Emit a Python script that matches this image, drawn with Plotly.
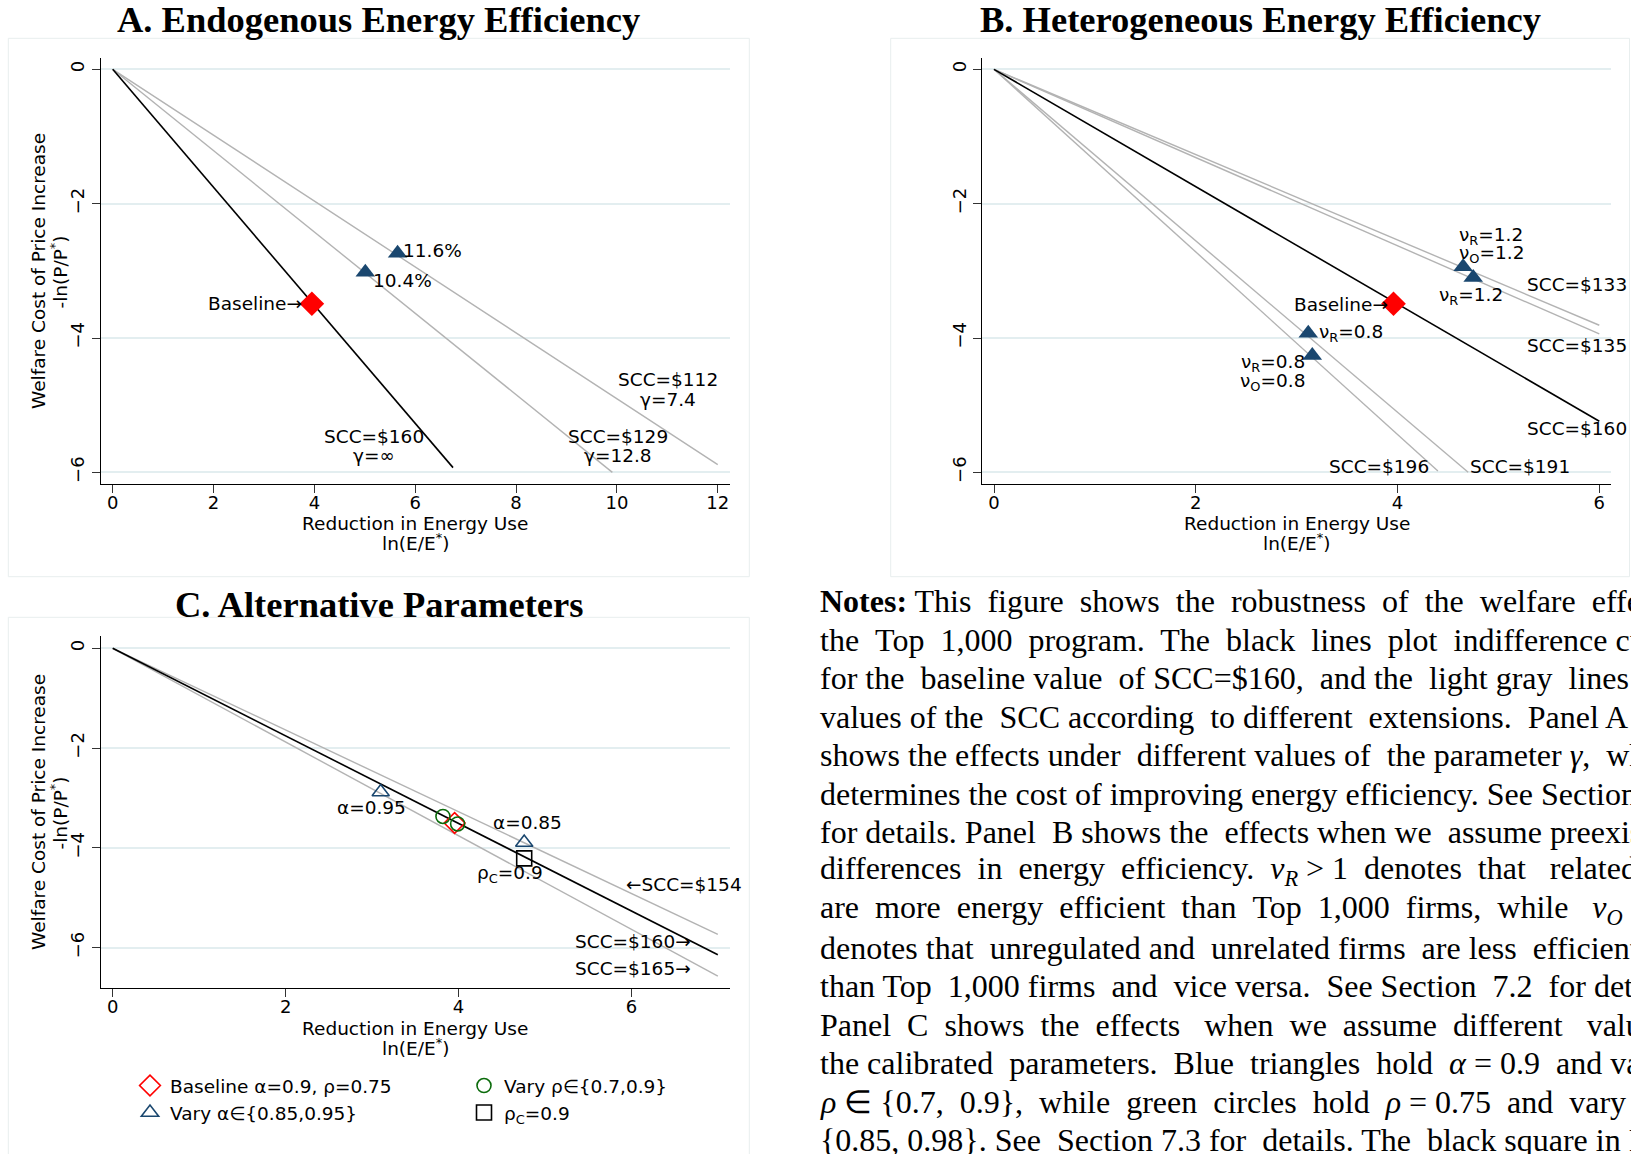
import plotly.graph_objects as go

W, H = 1631, 1154

# ---------------- data ----------------
# Panel A: indifference lines from origin (end points), markers
a_line_labels = ["SCC=$129", "SCC=$112", "SCC=$160"]
a_line_x_end = [9.91, 12.0, 6.75]
a_line_y_end = [-6.0, -5.885, -5.93]
a_line_colors = ["#b3b3b3", "#b3b3b3", "#000000"]
a_base_x, a_base_y = [3.95], [-3.49]
a_tri_x, a_tri_y = [5.01, 5.65], [-3.02, -2.74]

# Panel B
b_line_labels = ["SCC=$133", "SCC=$135", "SCC=$196", "SCC=$191", "SCC=$160"]
b_line_x_end = [6.0, 6.0, 4.40, 4.70, 6.0]
b_line_y_end = [-3.81, -3.94, -5.98, -6.0, -5.24]
b_line_colors = ["#b3b3b3", "#b3b3b3", "#b3b3b3", "#b3b3b3", "#000000"]
b_base_x, b_base_y = [3.96], [-3.49]
b_tri_x, b_tri_y = [4.65, 4.75, 3.115, 3.155], [-2.94, -3.10, -3.93, -4.26]

# Panel C
c_line_labels = ["SCC=$154", "SCC=$165", "SCC=$160"]
c_line_x_end = [7.0, 7.0, 7.0]
c_line_y_end = [-5.73, -6.57, -6.14]
c_line_colors = ["#b3b3b3", "#b3b3b3", "#000000"]
c_base_x, c_base_y = [3.955], [-3.50]
c_circ_x, c_circ_y = [3.82, 3.99], [-3.37, -3.52]
c_tri_x, c_tri_y = [3.10, 4.76], [-2.88, -3.89]
c_sq_x, c_sq_y = [4.76], [-4.21]

x_ticks_a = [0, 2, 4, 6, 8, 10, 12]
x_ticks_b = [0, 2, 4, 6]
x_ticks_c = [0, 2, 4, 6]
y_ticks_ab = [0, -2, -4, -6]
y_ticks_c = [0, -2, -4, -6]

notes_lines = [
    "<b>Notes:</b> This figure shows the robustness of the welfare effects of",
    "the Top 1,000 program.  The black lines plot indifference curves",
    "for the baseline value of SCC=$160, and the light gray lines plot",
    "values of the SCC according to different extensions.  Panel A",
    "shows the effects under different values of the parameter <i>γ</i>, which",
    "determines the cost of improving energy efficiency. See Section 7.1",
    "for details. Panel B shows the effects when we assume preexisting",
    "differences in energy efficiency. <i>ν<sub>R</sub></i> > 1 denotes that related firms",
    "are more energy efficient than Top 1,000 firms, while <i>ν<sub>O</sub></i> > 1",
    "denotes that unregulated and unrelated firms are less efficient",
    "than Top 1,000 firms and vice versa. See Section 7.2 for details.",
    "Panel C shows the effects when we assume different values of",
    "the calibrated parameters. Blue triangles hold <i>α</i> = 0.9 and vary",
    "<i>ρ</i> ∈ {0.7, 0.9}, while green circles hold <i>ρ</i> = 0.75 and vary <i>α</i> ∈",
    "{0.85, 0.98}. See Section 7.3 for details. The black square in Panel C",
]
# extra justification spaces per line, and number of visible word gaps
notes_extra = [8, 7, 6, 3, 3, 0, 3, 8, 10, 4, 6, 11, 6, 8, 3]
notes_gaps = [9, 9, 11, 7, 10, 8, 9, 9, 9, 8, 10, 9, 9, 12, 8]

# ---------------- helpers ----------------
def px(x):
    return x / W

def py(y):
    return 1 - y / H

OPS = {"=", ">", "∈"}

def justify(line, extra, ngaps):
    words = line.split(" ")
    gaps = len(words) - 1
    ng = max(1, min(ngaps, gaps))
    eligible = [i for i in range(ng)
                if words[i] not in OPS and words[i + 1] not in OPS and words[i] != ""
                and words[i + 1] != ""]
    n = max(1, len(eligible))
    adds = {}
    for k, gi in enumerate(eligible):
        adds[gi] = ((k + 1) * extra) // n - (k * extra) // n
    out = words[0]
    for i, w in enumerate(words[1:]):
        out += " " + "\u00a0" * adds.get(i, 0) + w
    return out

NAVY = "#1a476f"
SANS = "DejaVu Sans"
SERIF = "Liberation Serif"
LBL = 18.5

fig = go.Figure()

def add_lines(xe, ye, cols, xa, ya):
    for x1, y1, c in zip(xe, ye, cols):
        fig.add_trace(go.Scatter(x=[0, x1], y=[0, y1], mode="lines",
                                 line=dict(color=c, width=1.4 if c != "#000000" else 1.6),
                                 xaxis=xa, yaxis=ya, showlegend=False, hoverinfo="skip"))

# Panel A
add_lines(a_line_x_end, a_line_y_end, a_line_colors, "x", "y")
fig.add_trace(go.Scatter(x=a_tri_x, y=a_tri_y, mode="markers", xaxis="x", yaxis="y",
                         marker=dict(symbol="triangle-up", size=17, color=NAVY), showlegend=False))
fig.add_trace(go.Scatter(x=a_base_x, y=a_base_y, mode="markers", xaxis="x", yaxis="y",
                         marker=dict(symbol="diamond", size=19, color="#ff0000"), showlegend=False))
# Panel B
add_lines(b_line_x_end, b_line_y_end, b_line_colors, "x2", "y2")
fig.add_trace(go.Scatter(x=b_tri_x, y=b_tri_y, mode="markers", xaxis="x2", yaxis="y2",
                         marker=dict(symbol="triangle-up", size=17, color=NAVY), showlegend=False))
fig.add_trace(go.Scatter(x=b_base_x, y=b_base_y, mode="markers", xaxis="x2", yaxis="y2",
                         marker=dict(symbol="diamond", size=19, color="#ff0000"), showlegend=False))
# Panel C
add_lines(c_line_x_end, c_line_y_end, c_line_colors, "x3", "y3")
fig.add_trace(go.Scatter(x=c_base_x, y=c_base_y, mode="markers", xaxis="x3", yaxis="y3",
                         name="Baseline α=0.9, ρ=0.75", legend="legend",
                         marker=dict(symbol="diamond-open", size=16, color="#ff0000", line=dict(width=1.6))))
fig.add_trace(go.Scatter(x=c_tri_x, y=c_tri_y, mode="markers", xaxis="x3", yaxis="y3",
                         name="Vary α∈{0.85,0.95}", legend="legend",
                         marker=dict(symbol="triangle-up-open", size=15, color=NAVY, line=dict(width=1.6))))
fig.add_trace(go.Scatter(x=c_circ_x, y=c_circ_y, mode="markers", xaxis="x3", yaxis="y3",
                         name="Vary ρ∈{0.7,0.9}", legend="legend2",
                         marker=dict(symbol="circle-open", size=14, color="#0b6b0b", line=dict(width=1.6))))
fig.add_trace(go.Scatter(x=c_sq_x, y=c_sq_y, mode="markers", xaxis="x3", yaxis="y3",
                         name="ρ<sub>C</sub>=0.9", legend="legend2",
                         marker=dict(symbol="square-open", size=15, color="#000000", line=dict(width=1.6))))

# ---------------- axes ----------------
def xax(domain, rng, ticks, anchor):
    return dict(domain=domain, range=rng, tickvals=ticks, ticks="outside", ticklen=8,
                tickcolor="#333333", tickwidth=1.2, showline=True, linecolor="#000000", linewidth=1.3,
                showgrid=False, zeroline=False, anchor=anchor, ticklabelstandoff=-6,
                tickfont=dict(family=SANS, size=18, color="#000000"))

def yax(domain, rng, ticks, anchor):
    return dict(domain=domain, range=rng, tickvals=ticks, ticks="outside", ticklen=8,
                tickcolor="#333333", tickwidth=1.2, showline=True, linecolor="#000000", linewidth=1.3,
                showgrid=True, gridcolor="#e3eef0", gridwidth=1.6, zeroline=False, anchor=anchor,
                tickangle=-90, tickfont=dict(family=SANS, size=18, color="#000000"))

dom_x_a = [px(100.7), px(730)]
dom_y_ab = [py(484.3), py(58.3)]
dom_x_b = [px(982), px(1611)]
dom_x_c = [px(100.7), px(729.6)]
dom_y_c = [py(988.2), py(636)]

layout = dict(
    width=W, height=H, margin=dict(l=0, r=0, t=0, b=0),
    paper_bgcolor="white", plot_bgcolor="white",
    font=dict(family=SANS, size=LBL, color="#000000"),
    xaxis=xax(dom_x_a, [-0.238, 12.243], x_ticks_a, "y"),
    yaxis=yax(dom_y_ab, [-6.178, 0.164], y_ticks_ab, "x"),
    xaxis2=xax(dom_x_b, [-0.119, 6.116], x_ticks_b, "y2"),
    yaxis2=yax(dom_y_ab, [-6.178, 0.164], y_ticks_ab, "x2"),
    xaxis3=xax(dom_x_c, [-0.139, 7.136], x_ticks_c, "y3"),
    yaxis3=yax(dom_y_c, [-6.81, 0.246], y_ticks_c, "x3"),
    legend=dict(x=px(130), y=py(1067), xanchor="left", yanchor="top", orientation="v",
                font=dict(family=SANS, size=LBL), bgcolor="rgba(0,0,0,0)", tracegroupgap=0),
    legend2=dict(x=px(464), y=py(1067), xanchor="left", yanchor="top", orientation="v",
                 font=dict(family=SANS, size=LBL), bgcolor="rgba(0,0,0,0)", tracegroupgap=0),
)
fig.update_layout(**layout)

ann = []
def A(text, x, y, xref, yref, xanchor="center", size=LBL, family=SANS, angle=0):
    ann.append(dict(text=text, x=x, y=y, xref=xref, yref=yref, xanchor=xanchor, yanchor="middle",
                    showarrow=False, textangle=angle, font=dict(family=family, size=size, color="#000000")))

# Titles
A("<b>A. Endogenous Energy Efficiency</b>", px(378.6), py(20), "paper", "paper", size=36.5, family=SERIF)
A("<b>B. Heterogeneous Energy Efficiency</b>", px(1260), py(20), "paper", "paper", size=36.5, family=SERIF)
A("<b>C. Alternative Parameters</b>", px(378.6), py(604.4), "paper", "paper", size=36.5, family=SERIF)

# Axis titles
for yc in (271.5, 812.5):
    A("Welfare Cost of Price Increase", px(38.5), py(yc), "paper", "paper", angle=-90)
    A("-ln(P/P<sup>*</sup>)", px(59), py(yc), "paper", "paper", angle=-90)
for xc, y1, y2 in ((415.3, 523, 542), (1296.5, 523, 542), (415.3, 1028, 1047)):
    A("Reduction in Energy Use", px(xc), py(y1), "paper", "paper")
    A("ln(E/E<sup>*</sup>)", px(xc), py(y2), "paper", "paper")

# Panel A labels
A("Baseline→", 3.80, -3.49, "x", "y", xanchor="right")
A("11.6%", 5.72, -2.70, "x", "y", xanchor="left")
A("10.4%", 5.13, -3.15, "x", "y", xanchor="left")
A("SCC=$112", 11.01, -4.62, "x", "y")
A("γ=7.4", 11.01, -4.91, "x", "y")
A("SCC=$129", 10.02, -5.46, "x", "y")
A("γ=12.8", 10.02, -5.75, "x", "y")
A("SCC=$160", 5.19, -5.46, "x", "y")
A("γ=∞", 5.19, -5.75, "x", "y")

# Panel B labels
A("Baseline→", 3.93, -3.50, "x2", "y2", xanchor="right")
A("ν<sub>R</sub>=1.2", 4.59, -2.48, "x2", "y2", xanchor="left")
A("ν<sub>O</sub>=1.2", 4.59, -2.75, "x2", "y2", xanchor="left")
A("ν<sub>R</sub>=1.2", 4.39, -3.37, "x2", "y2", xanchor="left")
A("SCC=$133", 5.26, -3.21, "x2", "y2", xanchor="left")
A("SCC=$135", 5.26, -4.11, "x2", "y2", xanchor="left")
A("SCC=$160", 5.26, -5.35, "x2", "y2", xanchor="left")
A("ν<sub>R</sub>=0.8", 3.20, -3.92, "x2", "y2", xanchor="left")
A("ν<sub>R</sub>=0.8", 3.10, -4.37, "x2", "y2", xanchor="right")
A("ν<sub>O</sub>=0.8", 3.10, -4.65, "x2", "y2", xanchor="right")
A("SCC=$196", 3.30, -5.91, "x2", "y2", xanchor="left")
A("SCC=$191", 4.70, -5.91, "x2", "y2", xanchor="left")

# Panel C labels
A("α=0.95", 2.99, -3.18, "x3", "y3")
A("α=0.85", 4.80, -3.50, "x3", "y3")
A("ρ<sub>C</sub>=0.9", 4.59, -4.52, "x3", "y3")
A("←SCC=$154", 5.92, -4.73, "x3", "y3", xanchor="left")
A("SCC=$160→", 6.71, -5.87, "x3", "y3", xanchor="right")
A("SCC=$165→", 6.71, -6.41, "x3", "y3", xanchor="right")

# Notes text
for i, line in enumerate(notes_lines):
    A(justify(line, notes_extra[i], notes_gaps[i]), px(818), py(601 + 38.5 * i),
      "paper", "paper", xanchor="left", size=32, family=SERIF)

fig.update_layout(annotations=ann)

# Panel borders
shapes = []
for (x0, y0, x1, y1) in ((8.3, 38.3, 749.3, 576.7), (890.7, 38.3, 1629.5, 576.7), (8.3, 617.3, 749.3, 1160)):
    shapes.append(dict(type="rect", xref="paper", yref="paper", x0=px(x0), x1=px(x1), y0=py(y1), y1=py(y0),
                       line=dict(color="#e8eeee", width=1), fillcolor="rgba(0,0,0,0)", layer="below"))
fig.update_layout(shapes=shapes)

fig.write_html("out.html")
